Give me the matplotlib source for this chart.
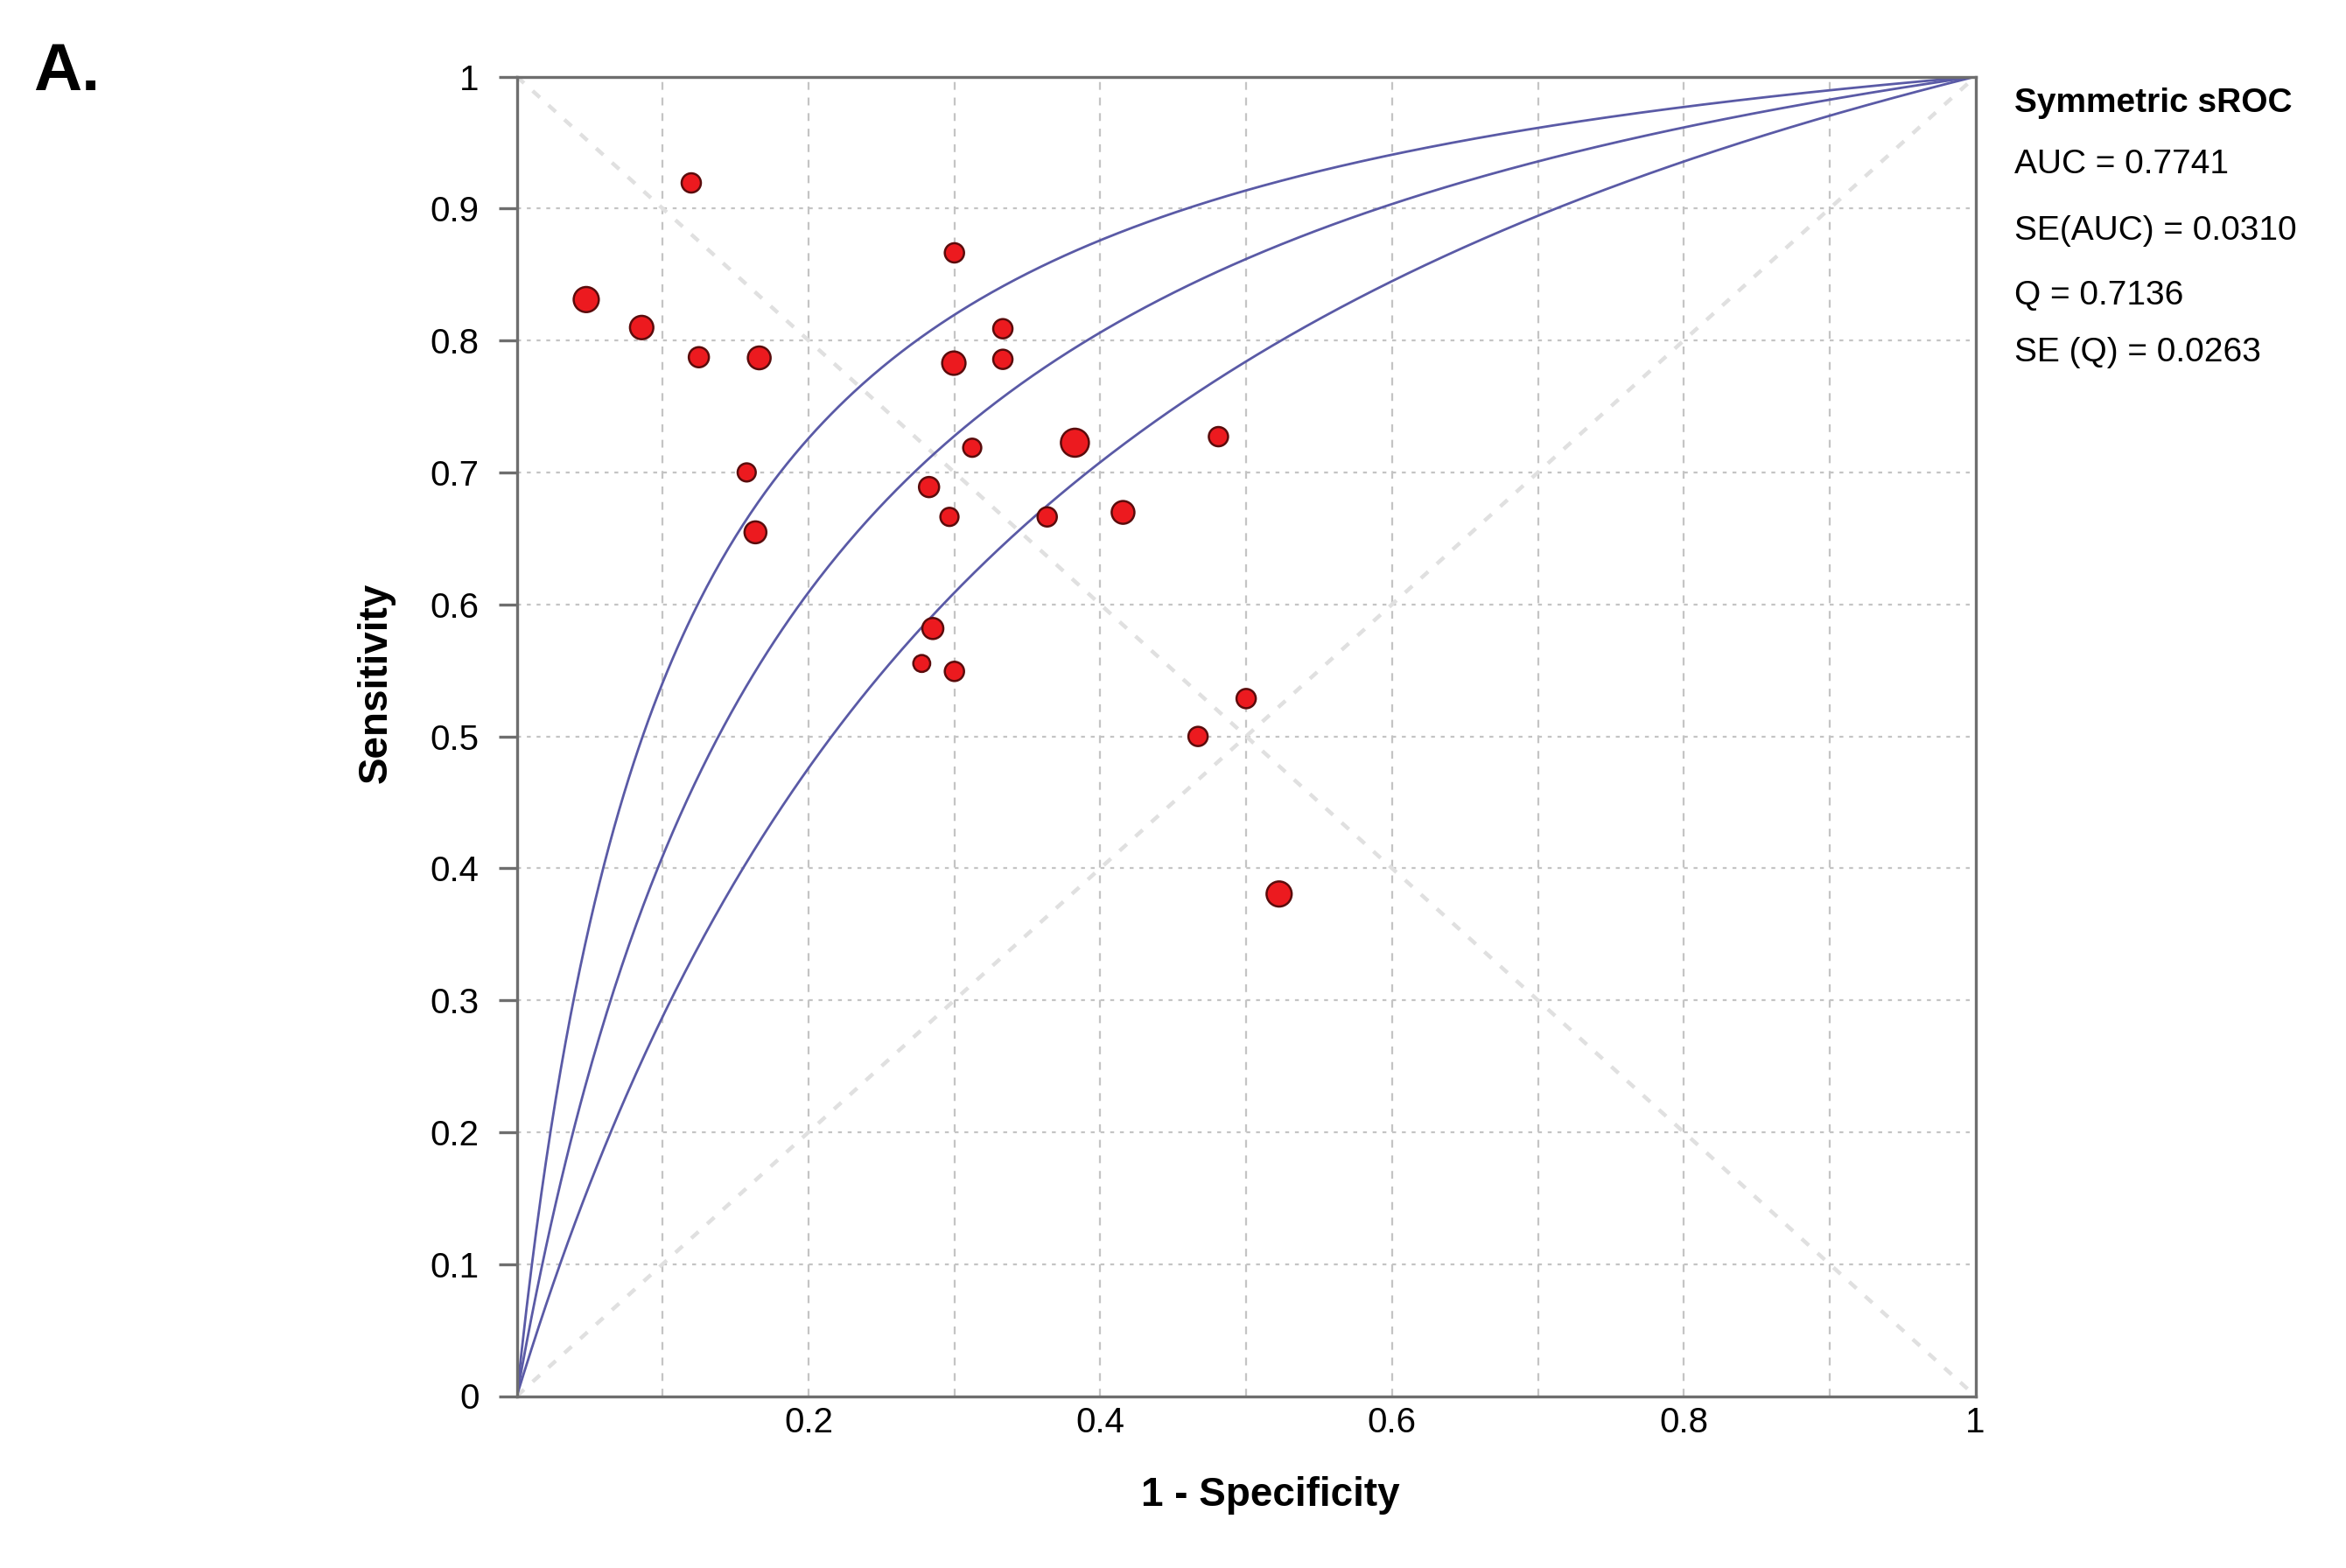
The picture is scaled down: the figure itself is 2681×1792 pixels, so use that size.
import numpy as np
import matplotlib
matplotlib.use('Agg')
import matplotlib.pyplot as plt

plt.rcParams['font.family'] = ['Liberation Sans', 'DejaVu Sans']

# study points (1 - specificity, sensitivity, relative weight)
fpr = [0.1196, 0.0476, 0.0856, 0.1248, 0.1662, 0.3000, 0.2996, 0.1576,
       0.1636, 0.3122, 0.2826, 0.2966, 0.3332, 0.3332, 0.3826, 0.4810,
       0.3636, 0.4156, 0.2852, 0.2776, 0.3000, 0.5000, 0.4670, 0.5226]
tpr = [0.9194, 0.8310, 0.8098, 0.7873, 0.7868, 0.8664, 0.7828, 0.7000,
       0.6546, 0.7187, 0.6889, 0.6663, 0.8089, 0.7857, 0.7225, 0.7271,
       0.6663, 0.6697, 0.5817, 0.5552, 0.5492, 0.5286, 0.4999, 0.3805]
weights = [22, 28.7, 26.7, 23, 26, 22, 26.7, 20.7,
           25, 20.7, 23, 20.7, 22, 22, 32, 22,
           22, 26, 24, 19.3, 22, 22, 22, 28.7]

# symmetric sROC curves: log diagnostic odds ratio D (upper, fitted, lower)
curve_D = [2.36, 1.83, 1.29]

stats_title = 'Symmetric sROC'
stats_lines = ['AUC = 0.7741', 'SE(AUC) = 0.0310', 'Q = 0.7136', 'SE (Q) = 0.0263']

ticks = [0, 0.1, 0.2, 0.3, 0.4, 0.5, 0.6, 0.7, 0.8, 0.9, 1]
y_tick_labels = ['0', '0.1', '0.2', '0.3', '0.4', '0.5', '0.6', '0.7', '0.8', '0.9', '1']
x_tick_pos = [0.2, 0.4, 0.6, 0.8, 1]
x_tick_labels = ['0.2', '0.4', '0.6', '0.8', '1']

W, H = 2681, 1792
fig = plt.figure(figsize=(W / 200, H / 200), dpi=200)
ax = fig.add_axes([590.6 / W, 1 - 1595.5 / H, (2257.6 - 590.6) / W, (1595.5 - 87.5) / H])
ax.set_xlim(0, 1)
ax.set_ylim(0, 1)

# grid
for t in ticks[1:-1]:
    ax.axvline(t, color='#c4c4c4', lw=0.8, ls=(0, (4, 4)), zorder=1)
    ax.axhline(t, color='#c4c4c4', lw=0.8, ls=(0, (2, 3)), zorder=1)

# diagonals
ax.plot([0, 1], [1, 0], color='#e0e0e0', lw=1.6, ls=(0, (2.5, 3)), zorder=1)
ax.plot([0, 1], [0, 1], color='#e0e0e0', lw=1.6, ls=(0, (2.5, 3)), zorder=1)

# sROC curves
xs = np.linspace(0, 1, 600)
for D in curve_D:
    ys = np.exp(D) * xs / (1 - xs + np.exp(D) * xs)
    ax.plot(xs, ys, color='#5a5aa6', lw=1.0, zorder=2)

# studies
sizes = [(w * 0.36) ** 2 for w in weights]
ax.scatter(fpr, tpr, s=sizes, c='#ec1a1f', edgecolors='#5a0c0c', linewidths=0.9, zorder=3)

for side in ['left', 'right', 'top', 'bottom']:
    ax.spines[side].set_color('#6e6e6e')
    ax.spines[side].set_linewidth(1.2)

ax.set_yticks(ticks)
ax.set_yticklabels(y_tick_labels)
ax.set_xticks(x_tick_pos)
ax.set_xticklabels(x_tick_labels)
ax.tick_params(axis='y', length=7.5, width=1.2, color='#6e6e6e', pad=8, labelsize=14.5)
ax.tick_params(axis='x', length=0, pad=4, labelsize=14.5)

fig.text(1452 / W, 1 - 1721 / H, '1 - Specificity', fontsize=16.5, fontweight='bold',
         ha='center', va='baseline')
fig.text(430 / W, 1 - 780 / H, 'Sensitivity', fontsize=16.5, fontweight='bold',
         rotation=90, ha='center', va='center')
fig.text(38 / W, 1 - 103 / H, 'A.', fontsize=27.5, fontweight='bold', ha='left', va='baseline')

fig.text(2302 / W, 1 - 128 / H, stats_title, fontsize=14, fontweight='bold', va='baseline')
baselines = [198, 274, 348, 413]
for line, b in zip(stats_lines, baselines):
    fig.text(2302 / W, 1 - b / H, line, fontsize=14, va='baseline')

fig.savefig('out.png', dpi=200)
